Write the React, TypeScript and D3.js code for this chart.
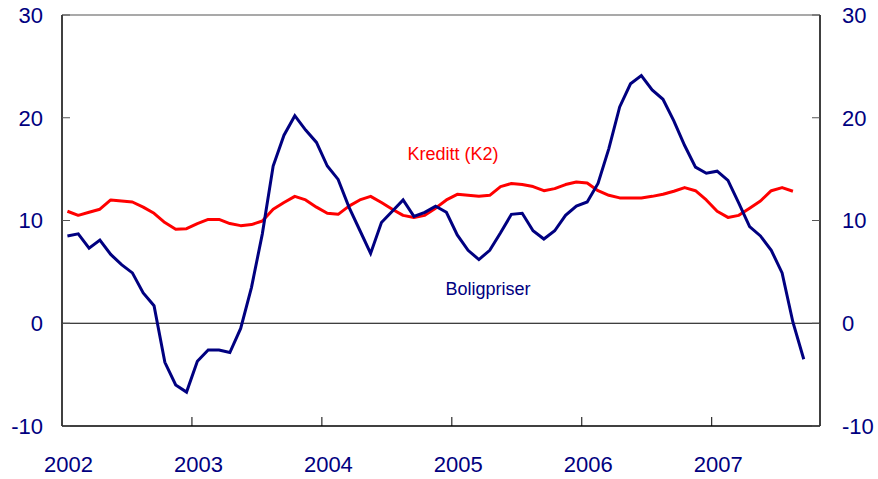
import React, { useEffect, useRef } from 'react';
import * as d3 from 'd3';

// monthly, Jan 2002 onwards (index 0 = Jan 2002)
const boligpriser = [
    8.5, 8.7, 7.3, 8.1, 6.7, 5.7, 4.9, 2.95, 1.7, -3.8, -6.0, -6.7,
    -3.7, -2.6, -2.6, -2.85, -0.5, 3.5, 8.7, 15.3, 18.3, 20.2, 18.8, 17.6,
    15.3, 14.0, 11.3, 9.05, 6.8, 9.8, 10.9, 12.0, 10.4, 10.8, 11.4, 10.8,
    8.6, 7.1, 6.2, 7.1, 8.8, 10.6, 10.7, 9.0, 8.2, 9.0, 10.5, 11.4,
    11.8, 13.6, 17.0, 21.05, 23.3, 24.1, 22.7, 21.8, 19.7, 17.3, 15.2, 14.6,
    14.8, 13.9, 11.7, 9.4, 8.5, 7.1, 4.9, 0.1, -3.5
];

const kreditt = [
    10.9, 10.5, 10.8, 11.1, 12.0, 11.9, 11.8, 11.3, 10.7, 9.8, 9.15, 9.2,
    9.7, 10.1, 10.1, 9.7, 9.5, 9.6, 9.95, 11.1, 11.75, 12.35, 12.0, 11.3,
    10.7, 10.6, 11.4, 12.0, 12.35, 11.75, 11.1, 10.5, 10.3, 10.5, 11.2, 12.0,
    12.55, 12.45, 12.35, 12.45, 13.3, 13.6, 13.5, 13.3, 12.9, 13.1, 13.5, 13.75,
    13.65, 12.9, 12.45, 12.2, 12.2, 12.2, 12.35, 12.55, 12.85, 13.2, 12.9, 12.0,
    10.9, 10.3, 10.5, 11.2, 11.9, 12.9, 13.2, 12.85
];

const years = ['2002', '2003', '2004', '2005', '2006', '2007'];
const yTicks = [-10, 0, 10, 20, 30];

const NAVY = '#000080';
const RED = '#ff0000';
const FONT = 'Arial, "Liberation Sans", sans-serif';

export default function App() {
    const svgRef = useRef<SVGSVGElement>(null);

    useEffect(() => {
        if (!svgRef.current) return;
        const svg = d3.select(svgRef.current);
        svg.selectAll('*').remove();

        const left = 62, right = 820, top = 15, bottom = 426;

        const x = d3.scaleLinear().domain([0, 70]).range([left, right]);
        const y = d3.scaleLinear().domain([-10, 30]).range([bottom, top]);

        const g = svg.append('g');

        // zero line
        g.append('line')
            .attr('x1', left).attr('x2', right)
            .attr('y1', y(0)).attr('y2', y(0))
            .attr('stroke', '#000').attr('stroke-width', 1);

        // frame
        g.append('line').attr('x1', left).attr('x2', right).attr('y1', top).attr('y2', top)
            .attr('stroke', '#555').attr('stroke-width', 1.2);
        g.append('line').attr('x1', left).attr('x2', right).attr('y1', bottom).attr('y2', bottom)
            .attr('stroke', '#000').attr('stroke-width', 1.5);
        g.append('line').attr('x1', left).attr('x2', left).attr('y1', top).attr('y2', bottom)
            .attr('stroke', '#000').attr('stroke-width', 1.5);
        g.append('line').attr('x1', right).attr('x2', right).attr('y1', top).attr('y2', bottom)
            .attr('stroke', '#000').attr('stroke-width', 1.5);

        // y ticks (inward) and labels on both sides
        yTicks.forEach(v => {
            g.append('line').attr('x1', left).attr('x2', left + 8).attr('y1', y(v)).attr('y2', y(v))
                .attr('stroke', '#555').attr('stroke-width', 1);
            g.append('line').attr('x1', right - 8).attr('x2', right).attr('y1', y(v)).attr('y2', y(v))
                .attr('stroke', '#555').attr('stroke-width', 1);
            g.append('text').attr('x', 43).attr('y', y(v)).attr('dy', '0.36em')
                .attr('text-anchor', 'end').attr('fill', NAVY)
                .attr('font-family', FONT).attr('font-size', 22).text(String(v));
            g.append('text').attr('x', 842).attr('y', y(v)).attr('dy', '0.36em')
                .attr('text-anchor', 'start').attr('fill', NAVY)
                .attr('font-family', FONT).attr('font-size', 22).text(String(v));
        });

        // x ticks (inward) and year labels
        years.forEach((label, i) => {
            const xv = x(i * 12);
            if (i > 0) {
                g.append('line').attr('x1', xv).attr('x2', xv).attr('y1', bottom - 9).attr('y2', bottom)
                    .attr('stroke', '#000').attr('stroke-width', 1);
            }
            g.append('text').attr('x', xv + 6.5).attr('y', 472)
                .attr('text-anchor', 'middle').attr('fill', NAVY)
                .attr('font-family', FONT).attr('font-size', 22).text(label);
        });

        const line = d3.line<number>()
            .x((_, i) => x(i + 0.5))
            .y(d => y(d));

        g.append('path').datum(kreditt)
            .attr('fill', 'none').attr('stroke', RED).attr('stroke-width', 3)
            .attr('stroke-linejoin', 'round').attr('d', line);

        g.append('path').datum(boligpriser)
            .attr('fill', 'none').attr('stroke', NAVY).attr('stroke-width', 3)
            .attr('stroke-linejoin', 'miter').attr('d', line);

        g.append('text').attr('x', 453).attr('y', 159.5)
            .attr('text-anchor', 'middle').attr('fill', RED)
            .attr('font-family', FONT).attr('font-size', 18).text('Kreditt (K2)');
        g.append('text').attr('x', 488).attr('y', 295)
            .attr('text-anchor', 'middle').attr('fill', NAVY)
            .attr('font-family', FONT).attr('font-size', 18).text('Boligpriser');
    }, []);

    return (
        <svg
            ref={svgRef}
            width={878}
            height={479}
            style={{ position: 'absolute', left: 0, top: 0, background: '#fff' }}
        />
    );
}
